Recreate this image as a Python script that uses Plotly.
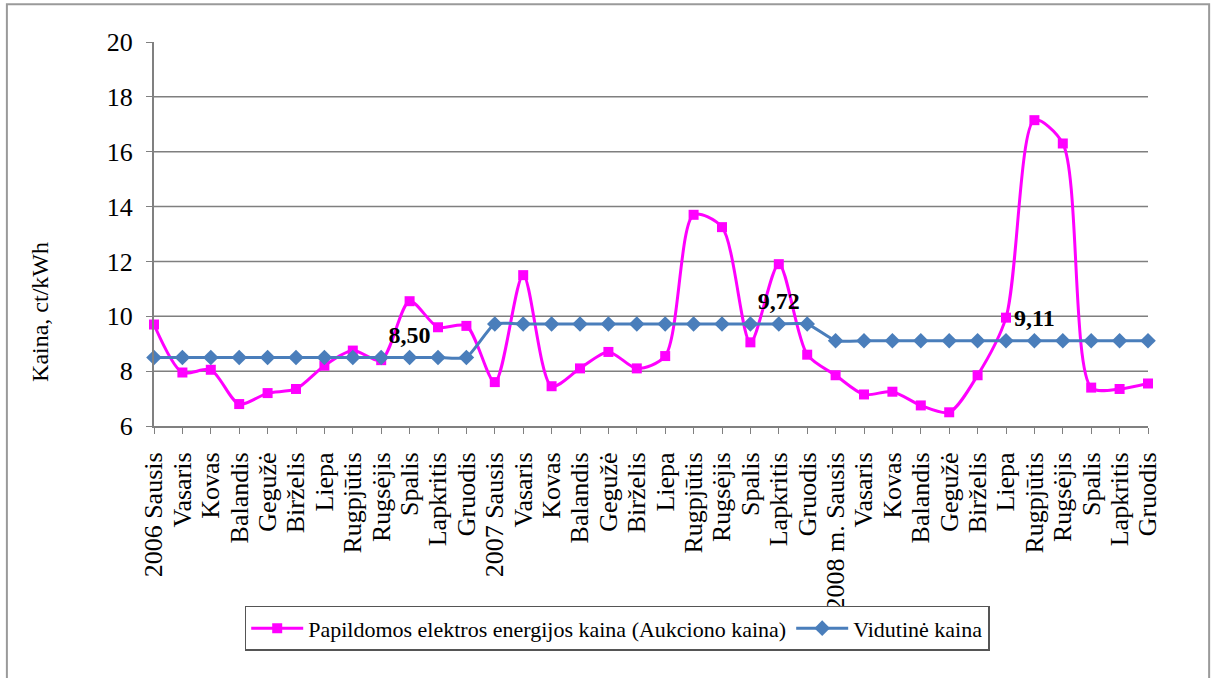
import plotly.graph_objects as go

months = ["Sausis", "Vasaris", "Kovas", "Balandis", "Gegužė", "Birželis", "Liepa",
          "Rugpjūtis", "Rugsėjis", "Spalis", "Lapkritis", "Gruodis"]
tick_labels = (["2006 Sausis"] + months[1:] + ["2007 Sausis"] + months[1:]
               + ["2008 m. Sausis"] + months[1:])

auction_price = [9.7, 7.95, 8.05, 6.8, 7.2, 7.35, 8.2, 8.75, 8.4, 10.55, 9.6, 9.65,
                 7.6, 11.5, 7.45, 8.1, 8.7, 8.1, 8.55, 13.7, 13.25, 9.05, 11.9, 8.6,
                 7.85, 7.15, 7.25, 6.75, 6.5, 7.85, 9.95, 17.15, 16.3, 7.4, 7.35, 7.55]
average_price = [8.50] * 12 + [9.72] * 12 + [9.11] * 12
label_idx = [9, 22, 31]
y_ticks = [6, 8, 10, 12, 14, 16, 18, 20]
grid_vals = [8, 10, 12, 14, 16, 18]

x = list(range(len(tick_labels)))
avg_text = ["" for _ in x]
for i in label_idx:
    avg_text[i] = f"{average_price[i]:.2f}".replace(".", ",")

FONT = "Liberation Serif"

fig = go.Figure()
fig.add_trace(go.Scatter(
    x=x, y=auction_price, mode="lines+markers", cliponaxis=False,
    name="Papildomos elektros energijos kaina (Aukciono kaina)",
    line=dict(color="#FF00FF", width=3, shape="spline", smoothing=0.8),
    marker=dict(symbol="square", size=10, color="#FF00FF"),
))
fig.add_trace(go.Scatter(
    x=x, y=average_price, mode="lines+markers+text", cliponaxis=False,
    name="Vidutinė kaina",
    text=avg_text, textposition="top center",
    textfont=dict(family=FONT, size=24, color="black", weight="bold"),
    line=dict(color="#4A7EBB", width=3, shape="spline", smoothing=0.5),
    marker=dict(symbol="diamond", size=12, color="#4A7EBB"),
))

shapes = []
for g in grid_vals:
    shapes.append(dict(type="line", xref="paper", yref="y", x0=0, x1=1, y0=g, y1=g,
                       line=dict(color="#7F7F7F", width=1.5), layer="below"))
shapes.append(dict(type="rect", xref="paper", yref="paper",
                   x0=-0.148, x1=1.0615, y0=-0.66, y1=1.098,
                   line=dict(color="#9A9A9A", width=2)))

fig.update_layout(
    width=1212, height=678,
    margin=dict(l=154, r=64, t=42, b=252),
    paper_bgcolor="white", plot_bgcolor="white",
    font=dict(family=FONT, size=22, color="black"),
    showlegend=True,
    legend=dict(orientation="h", x=0.466, xanchor="center", y=-0.527, yanchor="middle",
                bordercolor="#555555", borderwidth=1.5, font=dict(family=FONT, size=22),
                bgcolor="white", itemwidth=52),
    shapes=shapes,
    annotations=[dict(text="Kaina, ct/kWh", xref="paper", yref="paper",
                      x=-0.1147, y=0.297, textangle=-90, showarrow=False,
                      font=dict(family=FONT, size=24), xanchor="center", yanchor="middle")],
    xaxis=dict(range=[0, 35], tickmode="array", tickvals=x, ticktext=tick_labels,
               tickangle=-90, ticks="outside", ticklen=6, tickcolor="#808080",
               showline=True, linecolor="#808080", linewidth=2, showgrid=False,
               zeroline=False, tickfont=dict(family=FONT, size=26), ticklabelstandoff=8),
    yaxis=dict(range=[6, 20], tickvals=y_ticks,
               ticks="outside", ticklen=6, tickcolor="#808080",
               showline=True, linecolor="#808080", linewidth=2, showgrid=False,
               zeroline=False, tickfont=dict(family=FONT, size=26), ticklabelstandoff=8),
)

fig.write_html("out.html")
